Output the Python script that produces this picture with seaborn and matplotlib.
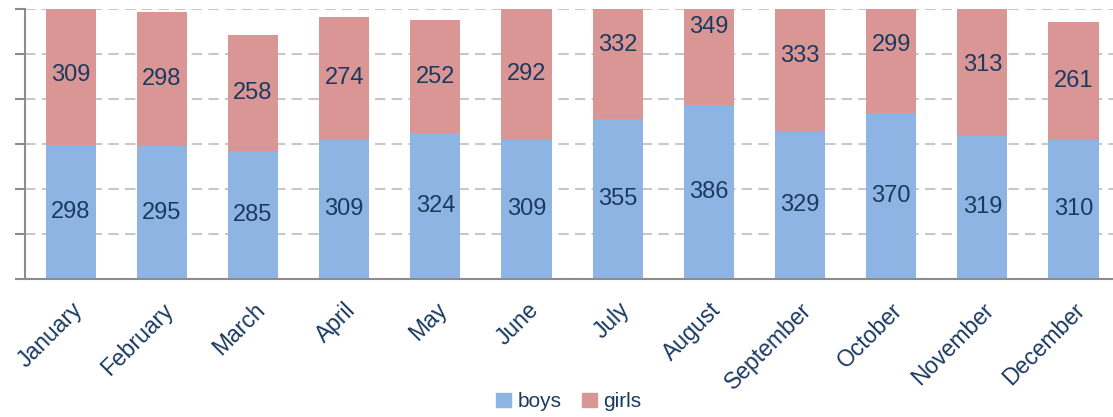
import numpy as np
import pandas as pd
import seaborn as sns
import matplotlib.pyplot as plt
import matplotlib.transforms as mtransforms
from matplotlib.patches import Patch

months = ["January", "February", "March", "April", "May", "June",
          "July", "August", "September", "October", "November", "December"]
boys = [298, 295, 285, 309, 324, 309, 355, 386, 329, 370, 319, 310]
girls = [309, 298, 258, 274, 252, 292, 332, 349, 333, 299, 313, 261]

BOYS_C = "#8EB4E3"
GIRLS_C = "#D99694"
TXT = "#1B3A60"
AX_C = "#8C8C8C"

sns.set_style("white")
plt.rcParams['font.family'] = ['Liberation Sans', 'DejaVu Sans']

df = pd.DataFrame({"month": months, "boys": boys, "girls": girls})

fig = plt.figure(figsize=(11.13, 4.17), dpi=100)
ax = fig.add_axes([0.0225, 0.331, 0.983, 0.647])

sns.barplot(data=df, x="month", y="boys", color=BOYS_C, width=0.55,
            saturation=1, ax=ax, linewidth=0)
sns.barplot(data=df, x="month", y="girls", bottom=df["boys"], color=GIRLS_C,
            width=0.55, saturation=1, ax=ax, linewidth=0)

# value labels in the middle of each segment (full segment, not the clipped part)
for i, (b, g) in enumerate(zip(boys, girls)):
    ax.text(i, b / 2, str(b), ha="center", va="center", fontsize=17, color=TXT)
    ax.text(i, b + g / 2, str(g), ha="center", va="center", fontsize=17, color=TXT)

ax.set_ylim(0, 600)
ax.set_xlim(-0.5, len(months) - 0.5)
ax.set_yticks(np.arange(0, 601, 100))
ax.set_yticklabels([])
ax.yaxis.grid(True, linestyle=(0, (5, 3)), color="#C8C8C8", linewidth=1.5)
ax.set_axisbelow(True)

ax.set_xticks(np.arange(len(months)))
ax.set_xticklabels(months, rotation=45, ha="right", rotation_mode="anchor",
                   fontsize=16.5, color=TXT)
shift = mtransforms.ScaledTranslation(-0.03, 0, fig.dpi_scale_trans)
for lab in ax.get_xticklabels():
    lab.set_transform(lab.get_transform() + shift)
ax.set_xticks(np.arange(-0.5, len(months)), minor=True)
ax.tick_params(axis="x", which="major", length=0, pad=14)
ax.tick_params(axis="x", which="minor", length=6, width=1.5, color=AX_C)
ax.tick_params(axis="y", length=7, width=1.5, color=AX_C, left=True)
ax.set_xlabel("")
ax.set_ylabel("")

for s in ["top", "right"]:
    ax.spines[s].set_visible(False)
for s in ["left", "bottom"]:
    ax.spines[s].set_color(AX_C)
    ax.spines[s].set_linewidth(1.5)

handles = [Patch(color=BOYS_C, label="boys"), Patch(color=GIRLS_C, label="girls")]
leg = fig.legend(handles=handles, loc="center", bbox_to_anchor=(0.511, 0.036),
                 ncol=2, frameon=False, fontsize=15, handlelength=0.7,
                 handleheight=0.7, handletextpad=0.3, columnspacing=1.0)
for t in leg.get_texts():
    t.set_color(TXT)

fig.savefig("out.png", dpi=100)
